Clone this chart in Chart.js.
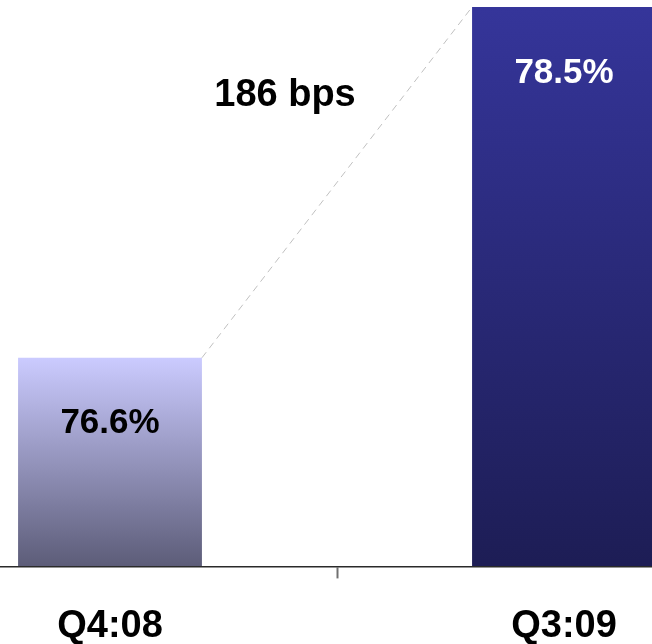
<!DOCTYPE html>
<html>
<head>
<meta charset="utf-8">
<script src="https://cdn.jsdelivr.net/npm/chart.js@4"></script>
<style>
  html, body { margin: 0; padding: 0; background: #fff; overflow: hidden; }
  body { width: 652px; height: 644px; position: relative; }
  #wrap { position: absolute; left: -117px; top: 0; width: 908px; height: 644px; }
</style>
</head>
<body>
<div id="wrap"><canvas id="c"></canvas></div>
<script>
// Quarter labels and the ratio for each quarter (percent)
const categories = ['Q4:08', 'Q3:09'];
const ratios = [76.6, 78.5];
const valueLabels = ['76.6%', '78.5%'];
const changeLabel = '186 bps';

// Bar gradients, top colour to bottom colour
const gradients = [
  ['#cbcbff', '#5c5c78'],
  ['#35359a', '#1d1d55']
];
const labelColors = ['#000000', '#ffffff'];

const FONT = '"Liberation Sans", Arial, sans-serif';
const Y_MIN = 75.47, Y_MAX = 78.5;

function barFill(ctx) {
  const chart = ctx.chart;
  const area = chart.chartArea;
  if (!area) return gradients[ctx.dataIndex][0];
  const y = chart.scales.y;
  const top = y.getPixelForValue(ratios[ctx.dataIndex]);
  const bottom = y.getPixelForValue(Y_MIN);
  const g = chart.ctx.createLinearGradient(0, top, 0, bottom);
  g.addColorStop(0, gradients[ctx.dataIndex][0]);
  g.addColorStop(1, gradients[ctx.dataIndex][1]);
  return g;
}

// Connector between the bar tops, the change caption, and value labels
const annotate = {
  id: 'annotate',
  afterDatasetsDraw(chart) {
    const c = chart.ctx;
    const bars = chart.getDatasetMeta(0).data;
    const b0 = bars[0], b1 = bars[1];
    c.save();
    c.strokeStyle = '#c0c0c0';
    c.lineWidth = 1;
    c.setLineDash([7, 5]);
    c.beginPath();
    c.moveTo(b0.x + b0.width / 2, b0.y);
    c.lineTo(b1.x - b1.width / 2, b1.y);
    c.stroke();
    c.setLineDash([]);

    c.textAlign = 'center';
    c.textBaseline = 'middle';
    bars.forEach((b, i) => {
      c.font = 'bold 35px ' + FONT;
      c.fillStyle = labelColors[i];
      c.fillText(valueLabels[i], b.x, b.y + 66);
    });

    const xs = chart.scales.x, ys = chart.scales.y;
    const mid = (xs.getPixelForValue(0) + xs.getPixelForValue(1)) / 2;
    c.font = 'bold 38px ' + FONT;
    c.fillStyle = '#000';
    c.fillText(changeLabel, mid - 52, ys.getPixelForValue(78.02));
    c.restore();
  }
};

new Chart(document.getElementById('c'), {
  type: 'bar',
  data: {
    labels: categories,
    datasets: [{
      data: ratios,
      backgroundColor: barFill,
      borderWidth: 0,
      barPercentage: 0.405,
      categoryPercentage: 1
    }]
  },
  options: {
    responsive: true,
    maintainAspectRatio: false,
    animation: false,
    layout: { padding: { top: 7, left: 0, right: 0, bottom: -30 } },
    plugins: { legend: { display: false }, tooltip: { enabled: false } },
    scales: {
      y: { display: false, min: Y_MIN, max: Y_MAX },
      x: {
        border: { display: true, color: '#2a2a2a', width: 1.5, z: 1 },
        grid: {
          offset: true,
          drawOnChartArea: false,
          drawTicks: true,
          tickLength: 12,
          tickWidth: 2,
          tickColor: '#707070'
        },
        ticks: {
          color: '#000',
          padding: 25,
          font: { family: FONT, size: 38, weight: 'bold' }
        }
      }
    }
  },
  plugins: [annotate]
});
</script>
</body>
</html>
